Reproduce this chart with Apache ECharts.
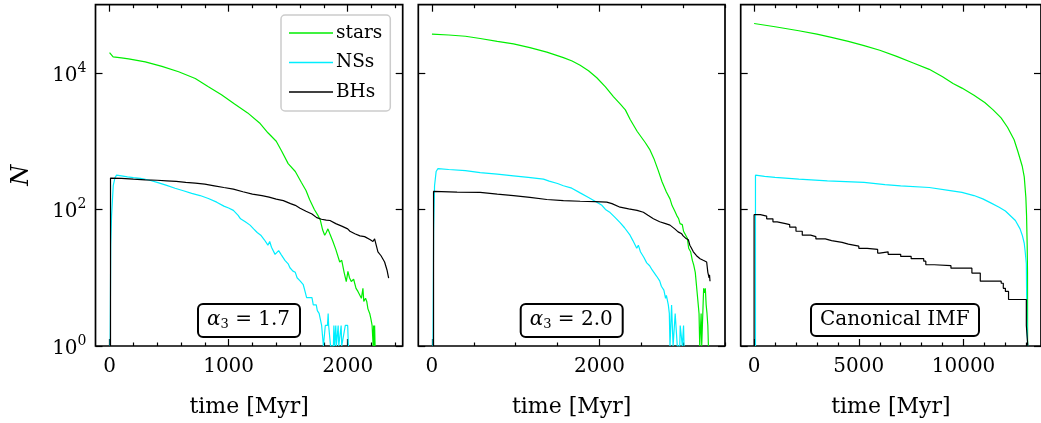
<!DOCTYPE html>
<html><head><meta charset="utf-8">
<script src="https://cdn.jsdelivr.net/npm/echarts@6/dist/echarts.min.js"></script>
<style>html,body{margin:0;padding:0;background:#fff}#c{width:1041px;height:423px}</style>
</head><body><div id="c"></div>
<script>
// ---------------- data ----------------
const seriesNames = ['stars', 'NSs', 'BHs'];
const seriesColors = ['#00ee00', '#00eeff', '#000000'];
const panelNotes = ['{a|α}{s|3}{t| = 1.7}', '{a|α}{s|3}{t| = 2.0}', '{t|Canonical IMF}'];
const xLabel = 'time [Myr]';
const yLabel = 'N';
const xRanges = [[-118, 2462], [-163, 3500], [-640, 13700]];
const xMajorTicks = [[0, 1000, 2000], [0, 2000], [0, 5000, 10000]];
const xMinorSteps = [200, 500, 1000];
const yTicks = [1, 100, 10000];
const yRange = [1, 100000];

// panel 1 : alpha3 = 1.7
const p1Stars = [[0,19800],[12,19000],[30,17200],[100,16600],[160,16100],[300,14500],[440,12500],[580,10400],[720,8300],[830,6300],[940,4800],[1050,3500],[1160,2600],[1260,1850],[1330,1330],[1400,1000],[1445,720],[1500,470],[1560,360],[1610,250],[1650,190],[1680,140],[1720,100],[1750,82],[1770,70],[1790,50],[1807,42],[1820,46],[1834,52],[1850,44],[1876,34],[1900,26],[1933,17],[1950,18],[1970,12],[1988,8.8],[2002,12.4],[2015,10],[2030,8.8],[2050,9.5],[2070,7],[2086,6.3],[2100,6.3],[2115,5],[2128,7],[2135,4.5],[2142,4.5],[2150,5],[2160,4.5],[2170,3.5],[2185,3],[2195,2.5],[2205,2],[2212,2],[2214,1],[2218,2],[2222,1],[2226,2],[2230,1]];
const p1NSs = [[5,1],[10,30],[17,82],[31,223],[45,290],[59,318],[100,310],[150,300],[200,292],[260,285],[330,270],[400,250],[480,225],[550,205],[620,188],[690,172],[760,160],[830,145],[900,128],[960,112],[1000,105],[1040,97],[1080,82],[1100,73],[1140,66],[1180,59],[1210,52],[1240,46],[1270,42],[1300,36],[1330,30],[1345,34],[1360,28],[1390,22],[1420,25],[1440,22],[1473,18],[1500,16],[1515,14],[1540,12.5],[1560,12],[1575,10],[1600,9],[1627,7.9],[1645,6],[1655,5.1],[1680,5.1],[1700,5.1],[1711,4],[1736,4],[1745,3.3],[1760,3],[1781,2],[1792,2],[1796,1],[1808,1],[1812,2],[1830,2],[1836,3],[1840,2],[1850,2],[1856,1],[1880,1],[1884,2],[1890,1],[1900,2],[1905,1],[1920,2],[1925,1],[1945,2],[1950,1],[1980,2],[2000,2],[2006,1]];
const p1BHs = [[8,1],[8,288],[100,285],[200,278],[300,272],[400,268],[480,263],[560,258],[640,250],[720,244],[800,235],[880,222],[960,210],[1040,199],[1120,182],[1200,168],[1280,160],[1340,152],[1400,142],[1460,135],[1520,122],[1560,115],[1600,104],[1650,94],[1700,86],[1740,76],[1780,72],[1820,70],[1851,69],[1900,62],[1950,57],[2000,52],[2019,48],[2060,44],[2103,41],[2142,40],[2190,36],[2212,34],[2226,37],[2238,36],[2254,24],[2280,21],[2310,17],[2330,13],[2344,9.9]];

// panel 2 : alpha3 = 2.0
const p2Stars = [[0,37150],[200,36000],[400,34500],[576,32000],[780,29000],[974,26600],[1170,23500],[1372,20150],[1570,16800],[1674,15000],[1770,13000],[1870,10800],[1969,8500],[2072,6270],[2167,4490],[2250,3500],[2310,2880],[2366,2100],[2450,1400],[2549,950],[2600,760],[2650,560],[2700,380],[2748,255],[2800,180],[2843,143],[2868,114],[2900,95],[2923,82],[2947,73],[2963,62],[2990,60],[3005,48],[3026,47],[3050,38],[3066,27],[3090,24],[3110,18],[3126,15.4],[3145,12],[3166,6.3],[3180,6],[3190,3],[3198,1],[3206,1],[3215,3],[3222,1],[3240,1],[3245,7],[3255,6],[3265,7],[3275,4],[3285,3],[3295,2],[3302,1]];
const p2NSs = [[12,1],[20,50],[31,223],[50,360],[72,398],[200,385],[400,370],[576,347],[780,330],[974,311],[1150,295],[1332,278],[1400,260],[1500,240],[1570,223],[1670,205],[1770,175],[1870,150],[1969,128],[2030,115],[2072,100],[2128,90],[2180,78],[2247,64],[2300,54],[2366,42],[2400,35],[2446,27],[2465,30],[2490,24],[2530,20],[2565,16.5],[2600,15],[2630,13],[2684,10.5],[2720,9],[2740,7.5],[2770,6.6],[2790,5],[2800,5.5],[2823,4],[2835,3],[2843,1],[2858,1],[2862,4],[2875,4],[2880,1],[2900,1],[2905,3],[2925,3],[2930,1],[2960,1],[2965,2],[2985,2],[2990,1],[3000,1],[3005,2],[3011,1]];
const p2BHs = [[19,1],[19,184],[300,180],[576,178],[780,168],[974,160],[1170,150],[1372,140],[1570,135],[1770,132],[1950,130],[2088,128],[2150,122],[2247,108],[2350,102],[2450,97],[2525,91],[2580,82],[2645,73],[2720,66],[2790,62],[2843,59],[2900,52],[2940,47],[2983,44],[3000,41],[3030,38],[3062,36],[3080,30],[3100,27],[3122,24],[3160,21],[3202,19],[3240,18],[3281,17],[3295,12],[3310,10],[3315,11],[3321,8.9]];

// panel 3 : canonical IMF
const p3Stars = [[0,53000],[1000,47500],[2136,41500],[3000,37000],[3692,33300],[4500,29000],[5250,25200],[6000,21500],[6808,17500],[7600,14000],[8364,11300],[9000,8800],[9500,7000],[9925,6000],[10500,4700],[11014,3700],[11400,2900],[11794,2200],[12100,1600],[12416,1050],[12600,700],[12805,430],[12900,300],[12977,150],[13010,82],[13040,30],[13056,12],[13060,1]];
const p3NSs = [[65,1],[65,318],[500,305],[1000,295],[2136,278],[3500,262],[5250,249],[6248,232],[7000,222],[8364,210],[9364,189],[9925,178],[10500,160],[10920,143],[11300,125],[11701,108],[12000,95],[12477,69],[12700,52],[12805,42],[12900,32],[12945,24],[13000,16],[13024,2.6],[13040,1.5],[13065,1]];
const p3BHs = [[0,1],[0,84],[300,80],[600,73],[900,66],[1100,62],[1500,60],[1700,55],[2000,48],[2300,42],[2700,40],[2950,37],[3400,35],[3700,33],[4200,31],[4500,29],[5000,27],[5400,26],[5900,23],[6000,24],[6400,22],[7000,20.5],[7500,19],[8100,17.5],[8200,15.5],[8600,15],[9400,13.8],[10400,11.7],[10800,8.9],[11800,8.3],[11900,7],[12000,6.3],[12150,4.8],[13000,2],[13070,1],[13071,1]];

const panelData = [[p1Stars, p1NSs, p1BHs], [p2Stars, p2NSs, p2BHs], [p3Stars, p3NSs, p3BHs]];
const panelStep = [[false, false, false], [false, false, false], [false, false, 'end']];

// ---------------- layout / style ----------------
const FONT = 'DejaVu Serif';
const grids = [
  {left: 95.5, top: 4.7, width: 307.2, height: 344},
  {left: 418.3, top: 4.7, width: 306.7, height: 344},
  {left: 740.7, top: 4.7, width: 307, height: 344}
];
const notePos = [[198, 303], [520.7, 303], [811, 303]];
const tickLine = {color: '#000', width: 1.2};

const option = {
  animation: false,
  backgroundColor: '#fff',
  grid: grids.map(g => Object.assign({show: true, borderColor: '#000', borderWidth: 1.7, backgroundColor: 'rgba(0,0,0,0)'}, g)),
  xAxis: [], yAxis: [], series: [],
  legend: {
    show: true, data: seriesNames, orient: 'vertical', left: 281, top: 15,
    padding: [8, 8, 9, 8], itemGap: 9.5, itemWidth: 44, itemHeight: 1.4, icon: 'rect',
    textStyle: {fontFamily: FONT, fontSize: 18.5, color: '#000', lineHeight: 20, padding: [0, 0, 0, -2]},
    backgroundColor: '#fff', borderColor: '#cccccc', borderWidth: 1.5, borderRadius: 4
  },
  title: panelNotes.map((txt, p) => ({
    text: txt, left: notePos[p][0], top: notePos[p][1],
    padding: [6, 10, 6, 9], borderWidth: 2, borderColor: '#000', borderRadius: 5, backgroundColor: '#fff',
    textStyle: {
      fontFamily: FONT, fontSize: 20, color: '#000', fontWeight: 'normal',
      rich: {
        a: {fontFamily: FONT, fontStyle: 'italic', fontSize: 20, color: '#000', lineHeight: 22},
        s: {fontFamily: FONT, fontSize: 13, color: '#000', verticalAlign: 'bottom', lineHeight: 16},
        t: {fontFamily: FONT, fontSize: 20, color: '#000', lineHeight: 22}
      }
    }
  }))
};

for (let p = 0; p < 3; p++) {
  const [mn, mx] = xRanges[p];
  const st = xMinorSteps[p];
  const minors = [];
  for (let v = Math.ceil(mn / st) * st; v <= mx; v += st) if (!xMajorTicks[p].includes(v)) minors.push(v);
  const base = {type: 'value', gridIndex: p, min: mn, max: mx, axisLine: {show: false, onZero: false}, splitLine: {show: false}};
  const mainIdx = option.xAxis.length;
  option.xAxis.push(Object.assign({}, base, {
    position: 'bottom',
    axisTick: {show: true, inside: true, length: 7, lineStyle: tickLine, customValues: xMajorTicks[p]},
    axisLabel: {show: true, customValues: xMajorTicks[p], margin: 11, color: '#000', fontFamily: FONT, fontSize: 20,
      formatter: v => String(Math.round(v))},
    name: xLabel, nameLocation: 'middle', nameGap: 50,
    nameTextStyle: {fontFamily: FONT, fontSize: 22, color: '#000'}
  }));
  option.xAxis.push(Object.assign({}, base, {position: 'bottom',
    axisTick: {show: true, inside: true, length: 3.5, lineStyle: tickLine, customValues: minors}, axisLabel: {show: false}}));
  option.xAxis.push(Object.assign({}, base, {position: 'top',
    axisTick: {show: true, inside: true, length: 7, lineStyle: tickLine, customValues: xMajorTicks[p]}, axisLabel: {show: false}}));
  option.xAxis.push(Object.assign({}, base, {position: 'top',
    axisTick: {show: true, inside: true, length: 3.5, lineStyle: tickLine, customValues: minors}, axisLabel: {show: false}}));

  const ybase = {type: 'log', logBase: 10, gridIndex: p, min: yRange[0], max: yRange[1], axisLine: {show: false, onZero: false}, splitLine: {show: false}, minorTick: {show: false}};
  const yIdx = option.yAxis.length;
  option.yAxis.push(Object.assign({}, ybase, {
    position: 'left',
    axisTick: {show: true, inside: true, length: 7, lineStyle: tickLine, customValues: yTicks},
    axisLabel: {
      show: p === 0, customValues: yTicks, margin: 9, color: '#000',
      formatter: v => '{b|10}{s|' + Math.round(Math.log10(v)) + '}',
      rich: {
        b: {fontFamily: FONT, fontSize: 20, color: '#000', lineHeight: 24, padding: [5, 0, 0, 0]},
        s: {fontFamily: FONT, fontSize: 14, color: '#000', verticalAlign: 'top', lineHeight: 14}
      }
    },
    name: p === 0 ? yLabel : '', nameLocation: 'middle', nameGap: 62,
    nameTextStyle: {fontFamily: FONT, fontStyle: 'italic', fontSize: 24, color: '#000'}
  }));
  option.yAxis.push(Object.assign({}, ybase, {
    position: 'right',
    axisTick: {show: true, inside: true, length: 7, lineStyle: tickLine, customValues: yTicks},
    axisLabel: {show: false}
  }));

  for (let s = 0; s < 3; s++) {
    option.series.push({
      name: seriesNames[s], type: 'line', xAxisIndex: mainIdx, yAxisIndex: yIdx,
      data: panelData[p][s], symbol: 'none', showSymbol: false, step: panelStep[p][s],
      lineStyle: {color: seriesColors[s], width: 1.2}, itemStyle: {color: seriesColors[s]},
      clip: true, z: 2 + s
    });
  }
}

const chart = echarts.init(document.getElementById('c'), null, {renderer: 'canvas'});
chart.setOption(option);
</script></body></html>
